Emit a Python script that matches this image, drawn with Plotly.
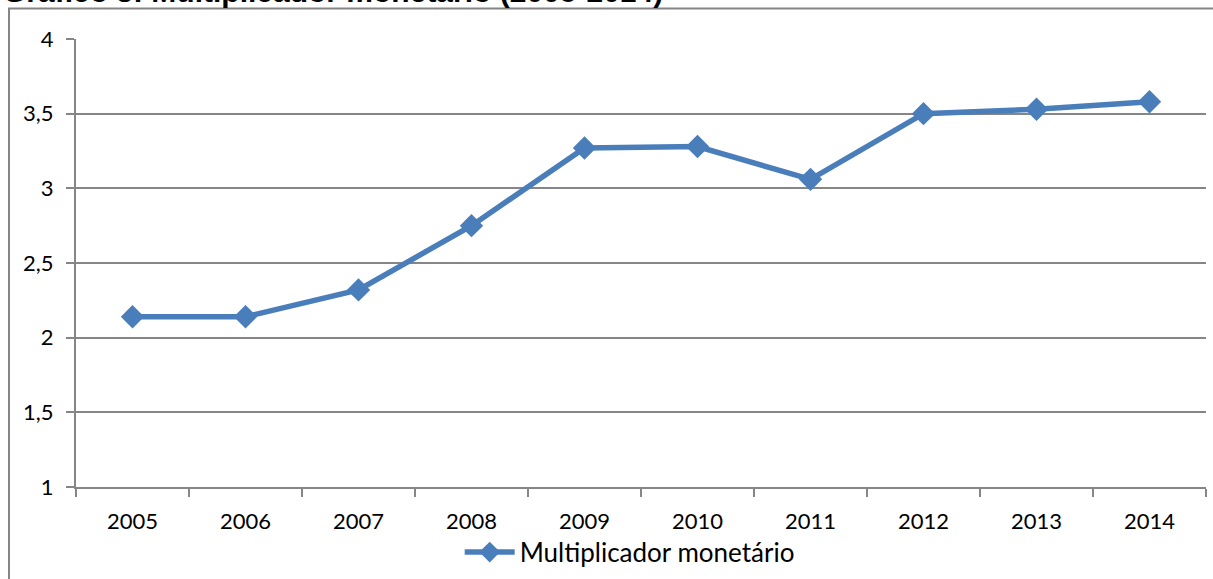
import plotly.graph_objects as go

years = [2005, 2006, 2007, 2008, 2009, 2010, 2011, 2012, 2013, 2014]
multiplicador = [2.14, 2.14, 2.32, 2.75, 3.27, 3.28, 3.06, 3.50, 3.53, 3.58]
y_tickvals = [1, 1.5, 2, 2.5, 3, 3.5, 4]
y_ticktext = ["1", "1,5", "2", "2,5", "3", "3,5", "4"]
series_name = "Multiplicador monetário"
title_text = "Gráfico 3: Multiplicador monetário (2005-2014)"

grid = "#868686"
blue = "#4a7ebb"
font = "Lato"

fig = go.Figure()
fig.add_trace(go.Scatter(
    x=years, y=multiplicador, name=series_name, mode="lines+markers",
    line=dict(color=blue, width=5.5),
    marker=dict(symbol="diamond", size=18, color=blue),
    showlegend=True,
))

fig.update_layout(
    width=1213, height=579,
    margin=dict(l=76, r=7, t=39, b=92),
    paper_bgcolor="white", plot_bgcolor="white",
    font=dict(family=font, size=22, color="black"),
    showlegend=True,
    legend=dict(orientation="h", x=0.49, xanchor="center",
                yref="container", y=0.087, yanchor="top",
                font=dict(family=font, size=26, color="black"),
                itemwidth=50),
    xaxis=dict(
        range=[2004.5, 2014.5], tickvals=years, ticktext=[str(y) for y in years],
        ticks="", showgrid=False, showline=True, linecolor=grid, linewidth=2,
        zeroline=False, tickfont=dict(family=font, size=22), ticklabelstandoff=14,
        automargin=False,
        minor=dict(tick0=2004.5, dtick=1, ticks="outside", ticklen=8,
                   tickcolor=grid, tickwidth=2, showgrid=False),
    ),
    yaxis=dict(
        range=[1, 4], tickvals=y_tickvals, ticktext=y_ticktext,
        ticks="outside", ticklen=8, tickcolor=grid, tickwidth=2,
        showgrid=True, gridcolor=grid, gridwidth=1.5,
        showline=True, linecolor=grid, linewidth=2, zeroline=False,
        tickfont=dict(family=font, size=22), ticklabelstandoff=8,
        automargin=False,
    ),
)

fig.add_shape(type="rect", xref="paper", yref="paper",
              x0=-0.0593, x1=1.2, y0=-0.5, y1=1.068,
              line=dict(color=grid, width=2), fillcolor="rgba(0,0,0,0)", layer="below")

fig.add_annotation(text="<b>" + title_text + "</b>", xref="paper", yref="paper",
                   x=-0.066, xanchor="left", y=1.065, yanchor="bottom",
                   showarrow=False, font=dict(family="Liberation Sans", size=30, color="black"))

fig.write_html("out.html")
